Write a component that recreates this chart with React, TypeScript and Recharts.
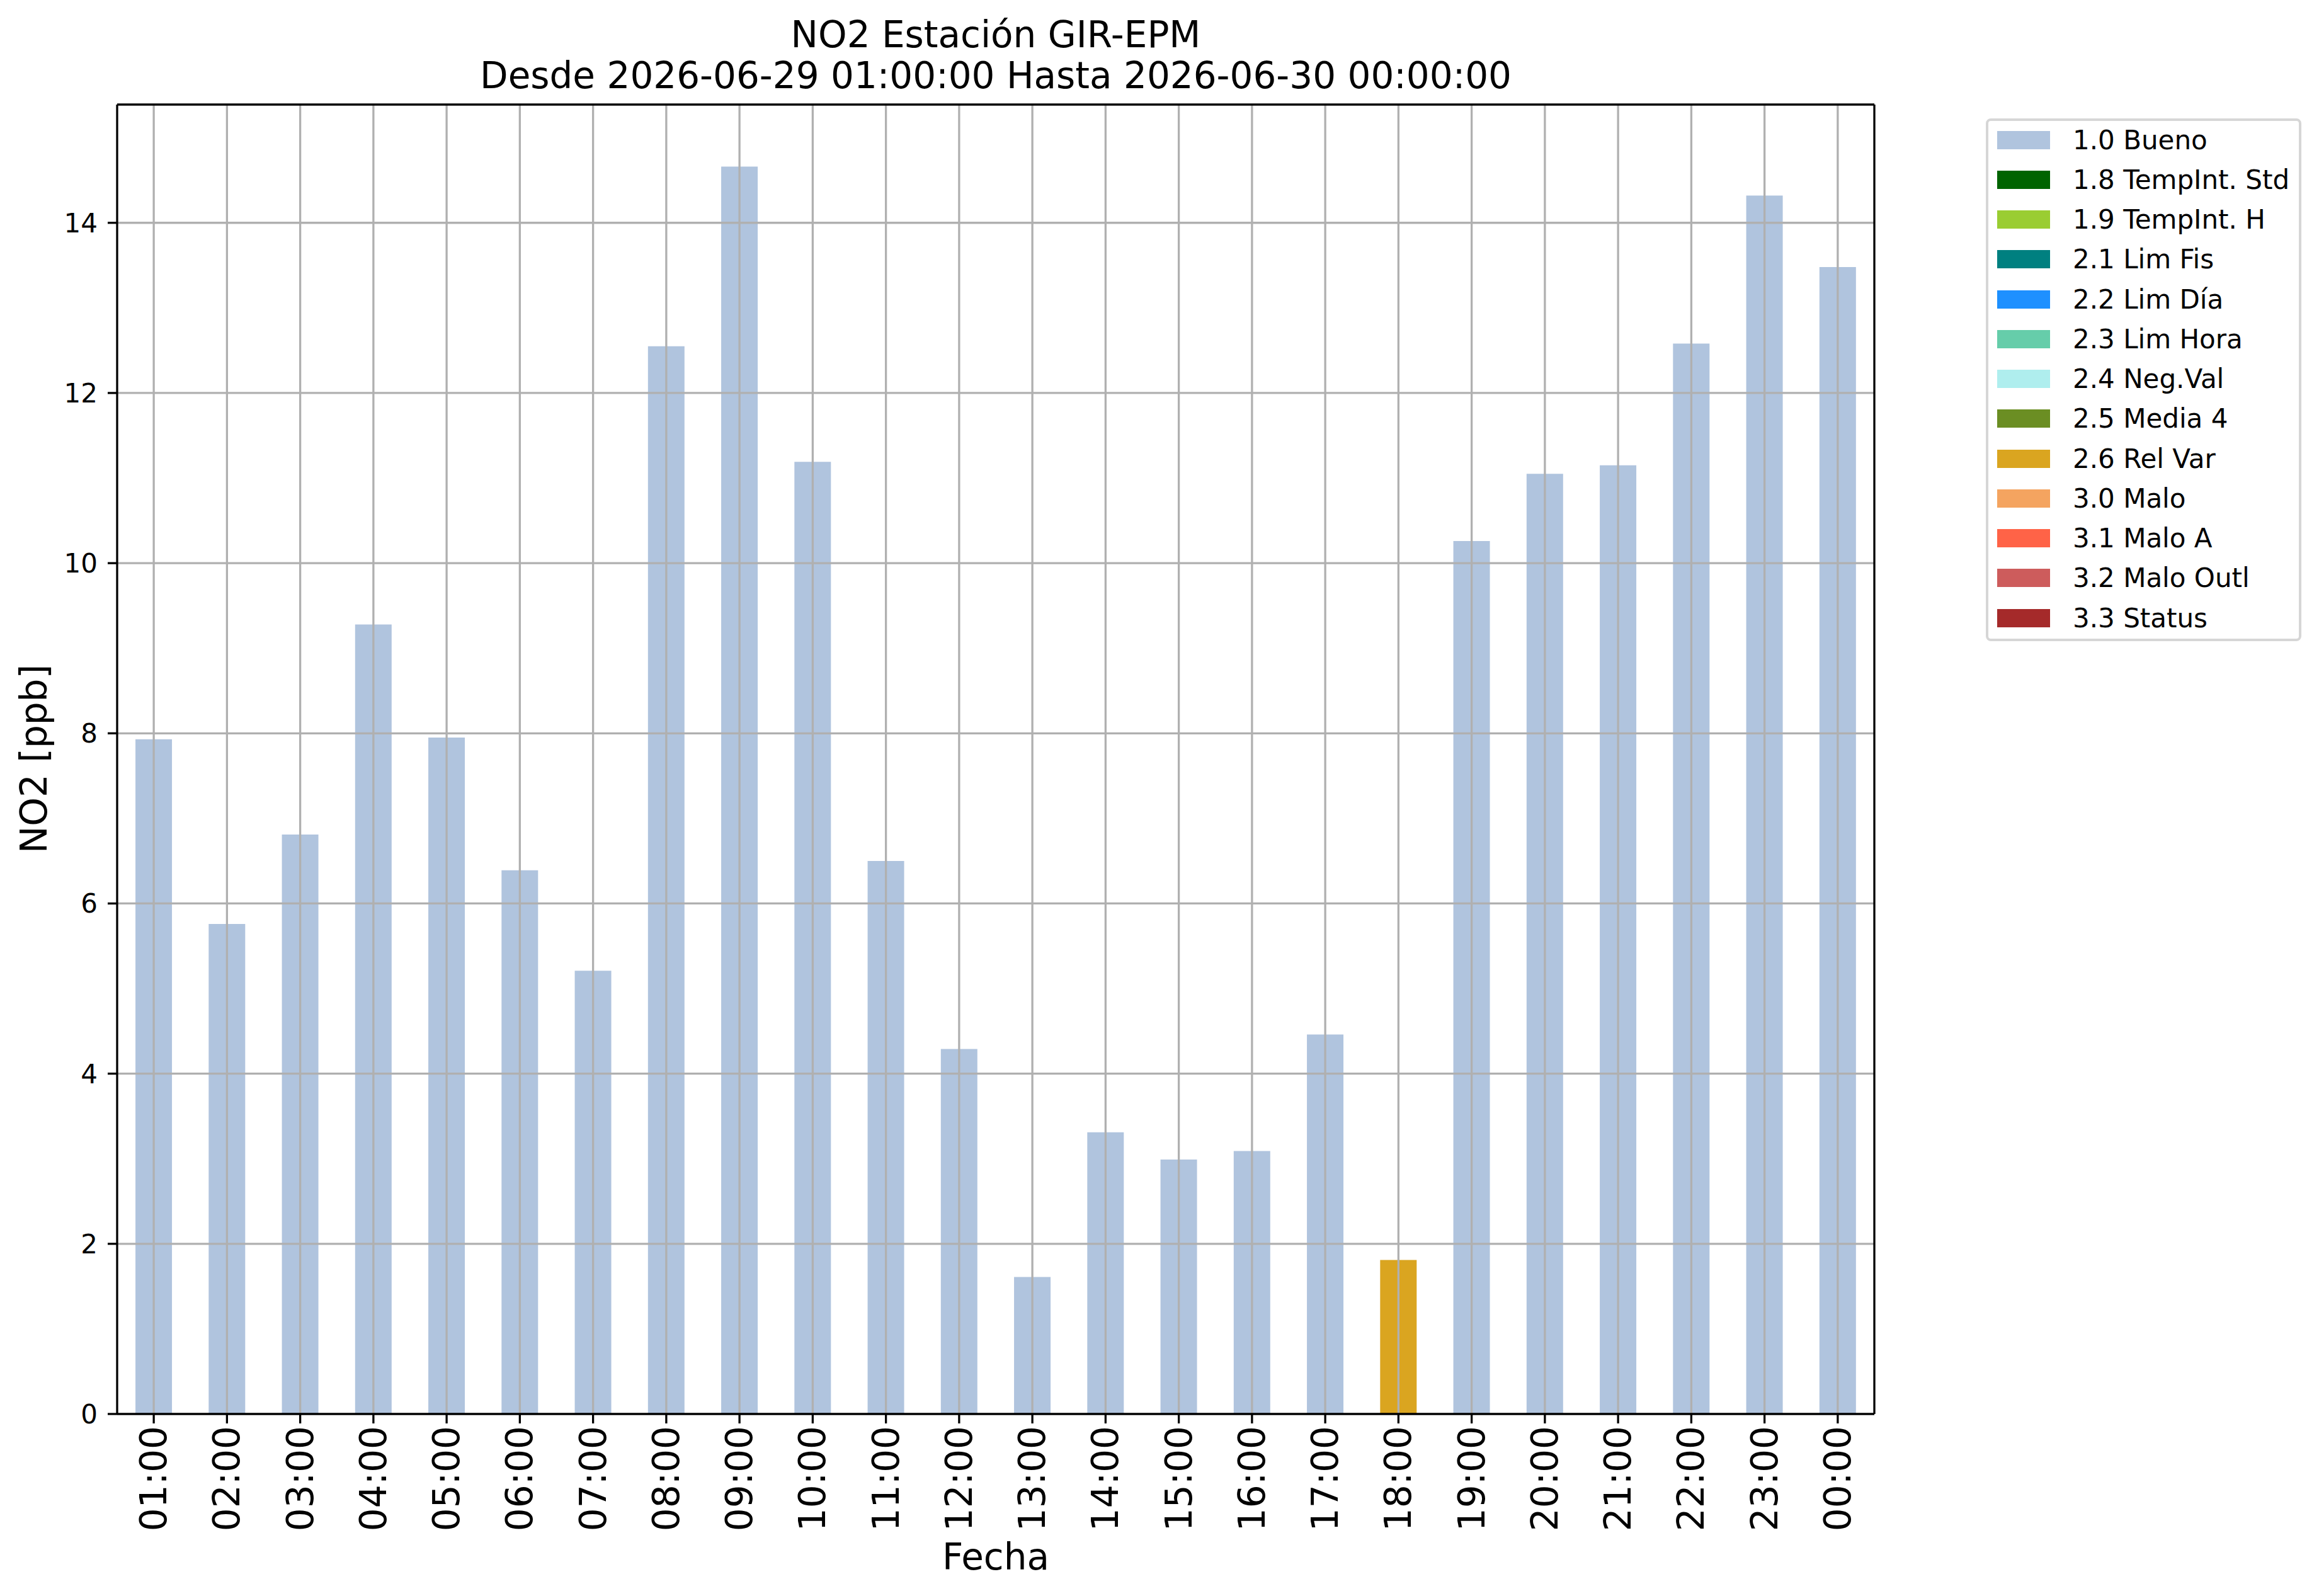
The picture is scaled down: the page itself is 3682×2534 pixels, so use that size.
import { BarChart, Bar, XAxis, YAxis, ReferenceLine } from "recharts";

const W = 3682;
const H = 2534;
const FONT = "'DejaVu Sans', sans-serif";
const GRID = "#b0b0b0";

const HOURS = [
  "01:00", "02:00", "03:00", "04:00", "05:00", "06:00", "07:00", "08:00",
  "09:00", "10:00", "11:00", "12:00", "13:00", "14:00", "15:00", "16:00",
  "17:00", "18:00", "19:00", "20:00", "21:00", "22:00", "23:00", "00:00",
];

const NO2 = [
  7.93, 5.76, 6.81, 9.28, 7.95, 6.39, 5.21, 12.55, 14.66, 11.19, 6.5, 4.29,
  1.61, 3.31, 2.99, 3.09, 4.46, 1.81, 10.26, 11.05, 11.15, 12.58, 14.32, 13.48,
];

// index into FLAG_NAMES for each hour
const HOUR_FLAG = [
  0, 0, 0, 0, 0, 0, 0, 0, 0, 0, 0, 0, 0, 0, 0, 0, 0, 8, 0, 0, 0, 0, 0, 0,
];

const FLAG_NAMES = [
  "1.0 Bueno", "1.8 TempInt. Std", "1.9 TempInt. H", "2.1 Lim Fis",
  "2.2 Lim Día", "2.3 Lim Hora", "2.4 Neg.Val", "2.5 Media 4", "2.6 Rel Var",
  "3.0 Malo", "3.1 Malo A", "3.2 Malo Outl", "3.3 Status",
];

const FLAG_COLORS = [
  "#b0c4de", "#006400", "#9acd32", "#008080", "#1e90ff", "#66cdaa",
  "#afeeee", "#6b8e23", "#daa520", "#f4a460", "#ff6347", "#cd5c5c", "#a52a2a",
];

const Y_TICKS = [0, 2, 4, 6, 8, 10, 12, 14];
const Y_MAX = 15.39;

const rows = HOURS.map((h, i) => {
  const r: Record<string, any> = { hour: h };
  r["f" + HOUR_FLAG[i]] = NO2[i];
  return r;
});

const XTick = ({ x, y, payload }: any) => (
  <text
    x={x}
    y={y}
    transform={`rotate(-90 ${x} ${y})`}
    textAnchor="end"
    dominantBaseline="central"
    fontSize={58}
    fontFamily={FONT}
    fill="#000"
  >
    {payload.value}
  </text>
);

function Legend() {
  return (
    <div
      style={{
        position: "absolute",
        left: 3153,
        top: 188,
        width: 501,
        height: 830,
        border: "4px solid #d6d6d6",
        borderRadius: 8,
        boxSizing: "border-box",
        background: "#fff",
        fontFamily: FONT,
        fontSize: 42,
      }}
    >
      {FLAG_NAMES.map((name, i) => (
        <div
          key={name}
          style={{
            position: "absolute",
            left: 14,
            top: -1 + i * 63.25,
            height: 62,
            display: "flex",
            alignItems: "center",
            whiteSpace: "nowrap",
          }}
        >
          <div style={{ width: 84, height: 29, background: FLAG_COLORS[i] }} />
          <span style={{ marginLeft: 36, color: "#000" }}>{name}</span>
        </div>
      ))}
    </div>
  );
}

export default function App() {
  return (
    <div style={{ position: "absolute", left: 0, top: 0, width: W, height: H, background: "#fff" }}>
      <BarChart
        width={W}
        height={H}
        data={rows}
        margin={{ top: 165, right: 705, bottom: 0, left: 56 }}
        barCategoryGap="25%"
      >
        <XAxis
          dataKey="hour"
          height={289}
          interval={0}
          tick={<XTick />}
          tickSize={15}
          tickMargin={4}
          tickLine={{ stroke: "#000", strokeWidth: 3.3 }}
          axisLine={{ stroke: "#000", strokeWidth: 3.3 }}
        />
        <XAxis
          xAxisId="top"
          orientation="top"
          dataKey="hour"
          height={1}
          tick={false}
          tickLine={false}
          axisLine={{ stroke: "#000", strokeWidth: 3.3 }}
        />
        <YAxis
          width={130}
          domain={[0, Y_MAX]}
          ticks={Y_TICKS}
          allowDataOverflow
          interval={0}
          tickSize={15}
          tickMargin={16}
          tick={{ fontSize: 42, fontFamily: FONT, fill: "#000" }}
          tickLine={{ stroke: "#000", strokeWidth: 3.3 }}
          axisLine={{ stroke: "#000", strokeWidth: 3.3 }}
        />
        <YAxis
          yAxisId="right"
          orientation="right"
          width={1}
          domain={[0, Y_MAX]}
          tick={false}
          tickLine={false}
          axisLine={{ stroke: "#000", strokeWidth: 3.3 }}
        />
        {FLAG_NAMES.map((name, i) => (
          <Bar
            key={name}
            dataKey={"f" + i}
            name={name}
            stackId="a"
            fill={FLAG_COLORS[i]}
            isAnimationActive={false}
          />
        ))}
        {HOURS.map((h) => (
          <ReferenceLine key={"gx" + h} x={h} stroke={GRID} strokeWidth={3.3} />
        ))}
        {Y_TICKS.filter((t) => t > 0).map((t) => (
          <ReferenceLine key={"gy" + t} y={t} stroke={GRID} strokeWidth={3.3} />
        ))}
        <text x={1581} y={75} textAnchor="middle" fontSize={58} fontFamily={FONT} fill="#000">
          NO2 Estación GIR-EPM
        </text>
        <text x={1581} y={140} textAnchor="middle" fontSize={58} fontFamily={FONT} fill="#000">
          Desde 2026-06-29 01:00:00 Hasta 2026-06-30 00:00:00
        </text>
        <text x={1581} y={2492} textAnchor="middle" fontSize={58} fontFamily={FONT} fill="#000">
          Fecha
        </text>
        <text
          x={74}
          y={1205}
          transform="rotate(-90 74 1205)"
          textAnchor="middle"
          fontSize={58}
          fontFamily={FONT}
          fill="#000"
        >
          NO2 [ppb]
        </text>
      </BarChart>
      <Legend />
    </div>
  );
}
